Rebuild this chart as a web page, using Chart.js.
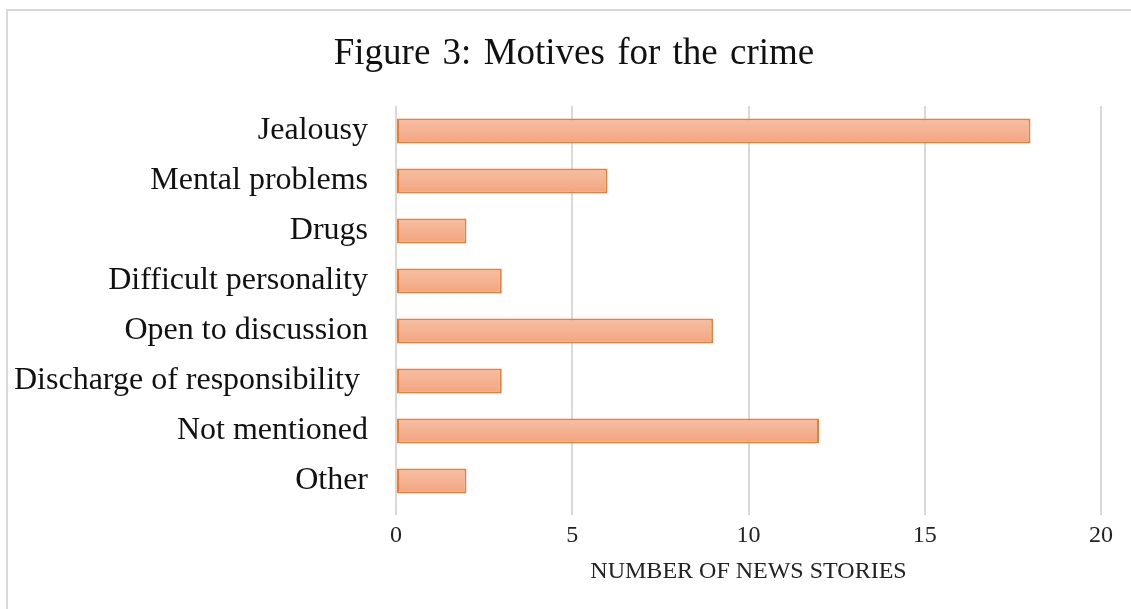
<!DOCTYPE html>
<html>
<head>
<meta charset="utf-8">
<script src="https://cdn.jsdelivr.net/npm/chart.js@4"></script>
<style>
  html, body { margin: 0; padding: 0; background: #fff; overflow: hidden; }
  #frame { position: absolute; left: 6px; top: 9px; width: 1300px; height: 800px;
           border-top: 2px solid #d9d9d9; border-left: 2px solid #d9d9d9; box-sizing: border-box; }
  #wrap { position: absolute; left: 0; top: 0; width: 1131px; height: 609px; }
</style>
</head>
<body>
<div id="frame"></div>
<div id="wrap"><canvas id="c" width="1131" height="609"></canvas></div>
<script>
const categories = ["Jealousy", "Mental problems", "Drugs", "Difficult personality",
  "Open to discussion", "Discharge of responsibility ", "Not mentioned", "Other"];
const stories = [18, 6, 2, 3, 9, 3, 12, 2];
const xTicks = [0, 5, 10, 15, 20];
const chartTitle = "Figure 3: Motives for the crime";
const xAxisTitle = "NUMBER OF NEWS STORIES";

const FONT = "'Liberation Serif', 'Times New Roman', serif";

function barFill(context) {
  const chart = context.chart;
  const ys = chart.scales && chart.scales.y;
  if (!ys || context.dataIndex === undefined) return '#f5ae8e';
  const yc = ys.getPixelForValue(context.dataIndex);
  if (!isFinite(yc)) return '#f5ae8e';
  const g = chart.ctx.createLinearGradient(0, yc - 13, 0, yc + 13);
  g.addColorStop(0, '#f7bfa4');
  g.addColorStop(1, '#f3a47f');
  return g;
}

const titlePlugin = {
  id: 'figTitle',
  afterDraw(chart) {
    const ctx = chart.ctx;
    ctx.save();
    ctx.font = "37px " + FONT;
    ctx.fillStyle = '#111';
    ctx.textAlign = 'center';
    ctx.textBaseline = 'alphabetic';
    try { ctx.wordSpacing = '3px'; } catch (e) {}
    ctx.fillText(chartTitle, 574, 64);
    ctx.restore();
  }
};

new Chart(document.getElementById('c'), {
  type: 'bar',
  data: {
    labels: categories,
    datasets: [{
      data: stories,
      backgroundColor: barFill,
      borderColor: '#ed7d31',
      borderWidth: 2,
      borderSkipped: false,
      barPercentage: 0.5,
      categoryPercentage: 1.0
    }]
  },
  plugins: [titlePlugin],
  options: {
    indexAxis: 'y',
    responsive: false,
    animation: false,
    devicePixelRatio: 1,
    layout: { padding: { left: 0, right: 30, top: 106, bottom: 0 } },
    plugins: {
      legend: { display: false },
      tooltip: { enabled: false },
      title: { display: false }
    },
    scales: {
      x: {
        type: 'linear',
        position: 'bottom',
        min: 0,
        max: 20,
        afterBuildTicks: (s) => { s.ticks = xTicks.map(v => ({ value: v })); },
        afterFit: (s) => { s.height = 103; },
        grid: { color: '#d9d9d9', lineWidth: 2, drawTicks: true, tickLength: 9 },
        border: { display: false },
        ticks: { color: '#222', font: { family: FONT, size: 24 }, padding: 6, maxRotation: 0 },
        title: {
          display: true,
          text: xAxisTitle,
          color: '#222',
          font: { family: FONT, size: 24 },
          padding: { top: 0, bottom: 23 }
        }
      },
      y: {
        type: 'category',
        afterFit: (s) => { s.width = 396; },
        grid: { display: false },
        border: { display: false },
        ticks: { color: '#111', font: { family: FONT, size: 32 }, padding: 20, autoSkip: false }
      }
    }
  }
});
</script>
</body>
</html>
